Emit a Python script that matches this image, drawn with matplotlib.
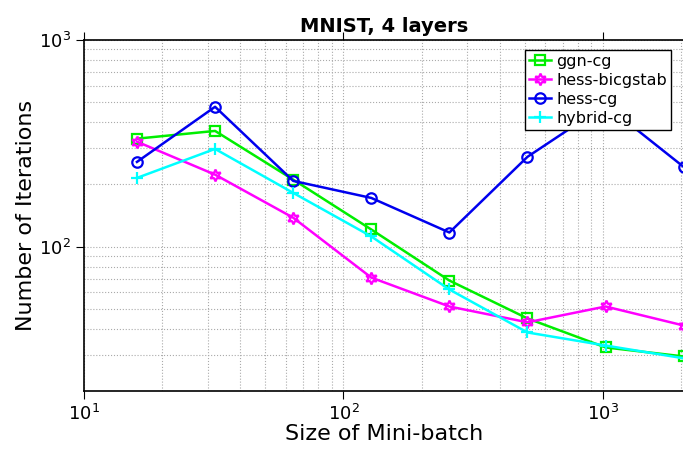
import numpy as np
import matplotlib
matplotlib.use("Agg")
import matplotlib.pyplot as plt

plt.rcParams["font.family"] = ["DejaVu Sans"]
plt.rcParams["mathtext.fontset"] = "dejavusans"

# mini-batch sizes and iteration counts
batch = [16, 32, 64, 128, 256, 512, 1024, 2048]
ggn_cg = [333, 363, 211, 121, 68.5, 44.9, 32.5, 29.4]
hess_bicgstab = [322, 223, 138, 70.8, 51.3, 43, 51.3, 41.5]
hess_cg = [257, 475, 208, 172, 117, 272, 485, 243]
hybrid_cg = [215, 297, 182, 112, 62, 38.4, 33.2, 28.8]

fig = plt.figure(figsize=(6.83, 4.54), dpi=100)
ax = fig.add_axes([84 / 683, 63 / 454, 599.7 / 683, 351 / 454])

lw = 1.8
ax.plot(batch, ggn_cg, "-s", color="#00ee00", lw=lw, ms=6.5, mfc="none", mew=1.6, label="ggn-cg", clip_on=False)
ax.plot(batch, hess_bicgstab, "-", marker=(6, 1, 0), color="magenta", lw=lw, ms=8.5, mfc="none", mew=1.6,
        label="hess-bicgstab", clip_on=False)
ax.plot(batch, hess_cg, "-o", color="#0000ee", lw=lw, ms=7.5, mfc="none", mew=1.6, label="hess-cg", clip_on=False)
ax.plot(batch, hybrid_cg, "-+", color="cyan", lw=lw, ms=9, mew=1.6, label="hybrid-cg", clip_on=False)

ax.set_xscale("log")
ax.set_yscale("log")
ax.set_xlim(10, 2048)
ax.set_ylim(20, 1000)

ax.grid(True, which="both", ls=":", color="#aaaaaa", lw=0.8)
ax.tick_params(which="major", direction="out", length=6, labelsize=13, top=True, right=True)
ax.tick_params(which="minor", length=0)
for s in ax.spines.values():
    s.set_linewidth(1.2)

ax.set_title("MNIST, 4 layers", fontsize=14, fontweight="bold", pad=6)
ax.set_xlabel("Size of Mini-batch", fontsize=16, labelpad=0)
ax.set_ylabel("Number of Iterations", fontsize=16, labelpad=2)

leg = ax.legend(loc="upper right", fontsize=11.5, fancybox=False, edgecolor="black", framealpha=1,
                handlelength=1.4, handletextpad=0.3, borderpad=0.25, labelspacing=0.25,
                bbox_to_anchor=(0.992, 0.995))
leg.get_frame().set_linewidth(1.0)

fig.savefig("out.png", dpi=100)
